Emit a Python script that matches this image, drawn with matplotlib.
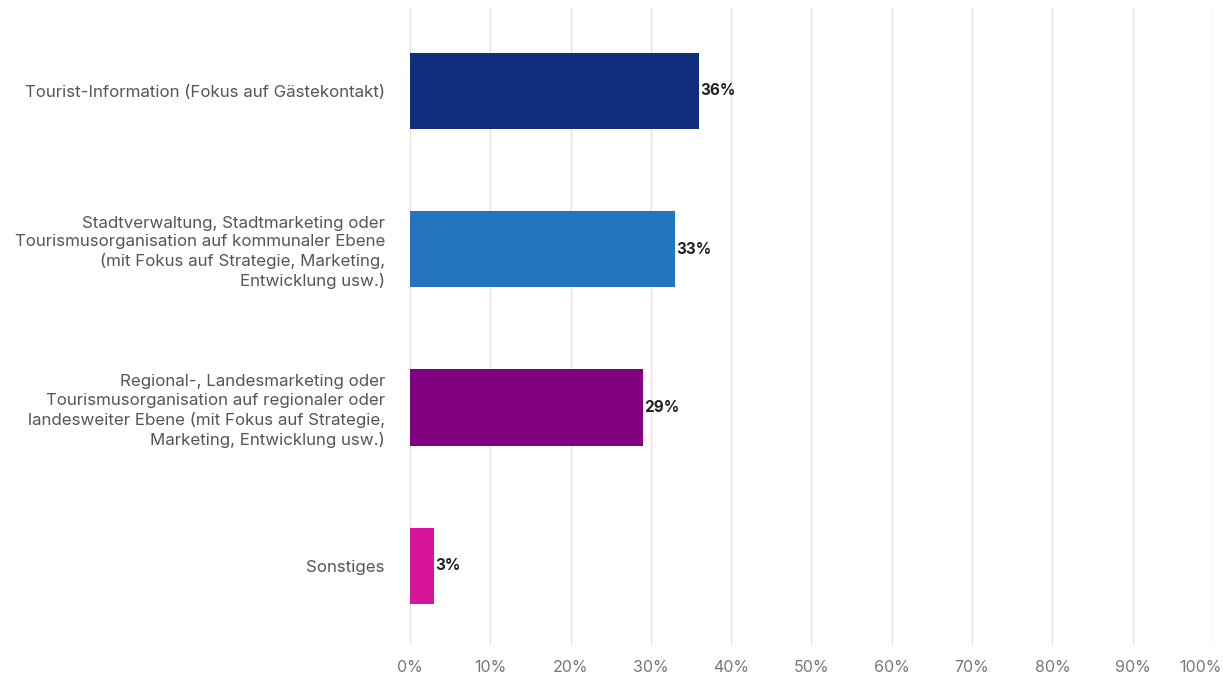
import matplotlib.pyplot as plt
import matplotlib.transforms as mtransforms
import numpy as np

categories = [
    "Tourist-Information (Fokus auf Gästekontakt)",
    "Stadtverwaltung, Stadtmarketing oder\nTourismusorganisation auf kommunaler Ebene\n(mit Fokus auf Strategie, Marketing,\nEntwicklung usw.)",
    "Regional-, Landesmarketing oder\nTourismusorganisation auf regionaler oder\nlandesweiter Ebene (mit Fokus auf Strategie,\nMarketing, Entwicklung usw.)",
    "Sonstiges",
]
shares = [36, 33, 29, 3]
bar_colors = ["#112e7d", "#2574c0", "#800080", "#d7159b"]
tick_values = list(range(0, 101, 10))

plt.rcParams["font.family"] = ["Inter", "DejaVu Sans"]

fig = plt.figure(figsize=(12.23, 6.82), dpi=100)
ax = fig.add_axes([0.3352, 0.054, 0.6566, 0.934])

y_pos = np.arange(len(categories))
ax.barh(y_pos, shares, height=0.48, color=bar_colors, zorder=3)

for y, v in zip(y_pos, shares):
    ax.text(v + 0.15, y, f"{v}%", va="center", ha="left",
            fontsize=11, fontweight="bold", color="#222222", zorder=4)

ax.set_xlim(0, 100)
ax.set_ylim(3.5, -0.52)
ax.set_xticks(tick_values)
ax.set_xticklabels([f"{t}%" for t in tick_values], fontsize=11.5, color="#777777")
ax.set_yticks(y_pos)
ax.set_yticklabels(categories, fontsize=12.2, color="#555555", linespacing=1.3)
ax.tick_params(axis="both", length=0)
ax.tick_params(axis="x", pad=11)
ax.tick_params(axis="y", pad=18)

# keep the last tick label inside the figure
last = ax.get_xticklabels()[-1]
last.set_transform(last.get_transform() + mtransforms.ScaledTranslation(-13 / 100, 0, fig.dpi_scale_trans))

ax.grid(axis="x", color="#e3e3e6", linewidth=1, zorder=0)
ax.axvline(0, color="#d3dbee", linewidth=1.3, zorder=1)
for spine in ax.spines.values():
    spine.set_visible(False)

plt.savefig("out.png", dpi=100)
